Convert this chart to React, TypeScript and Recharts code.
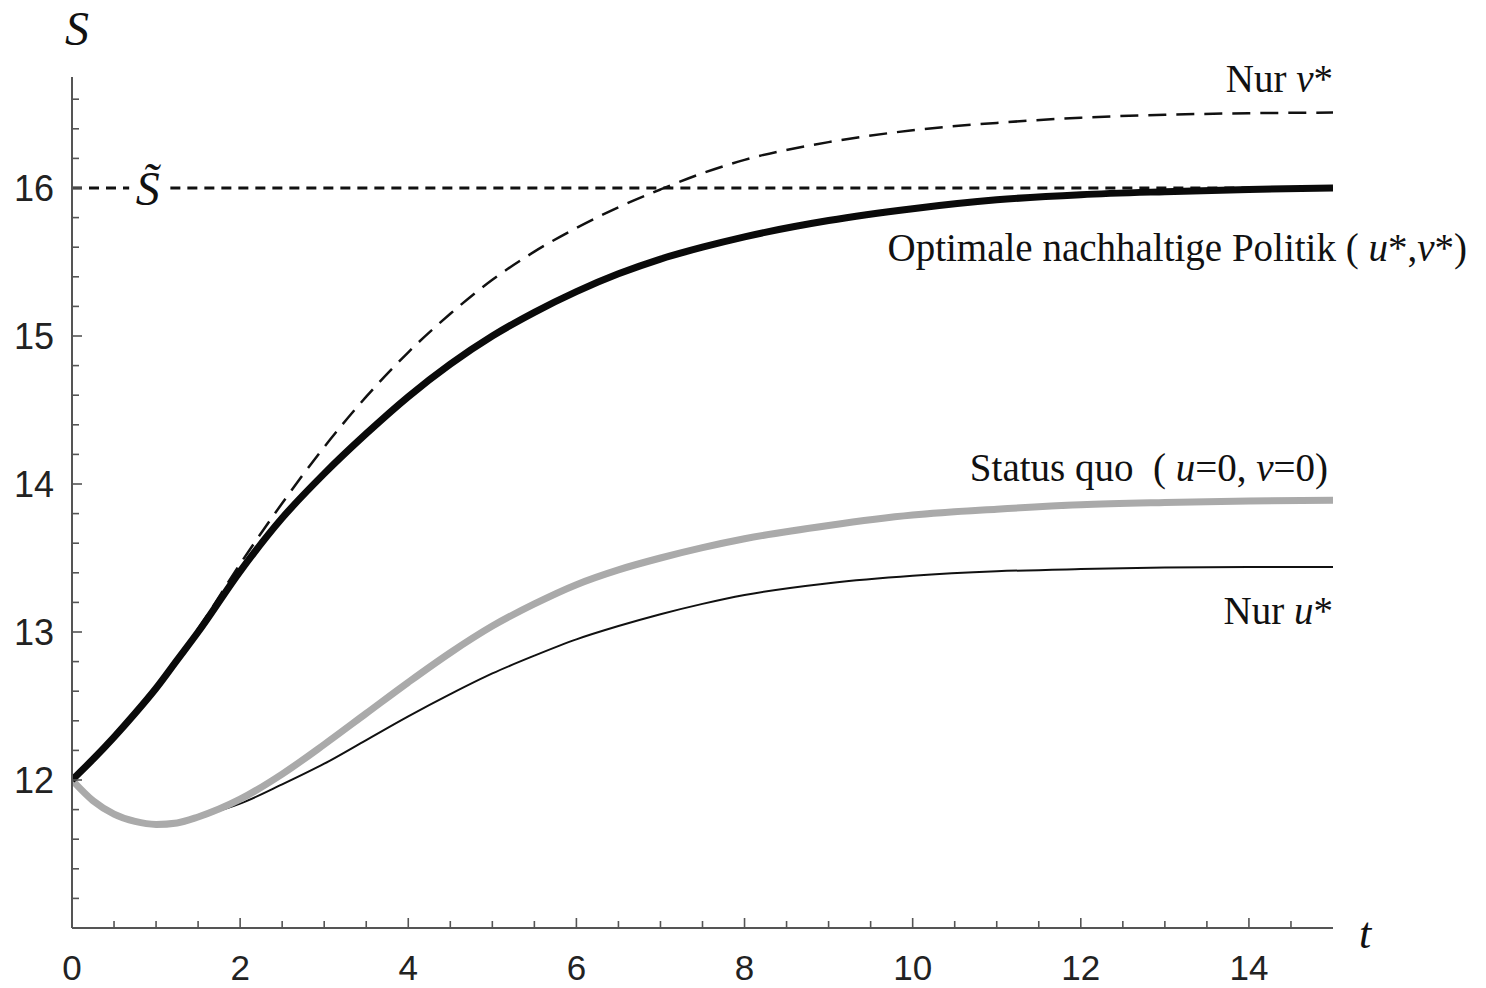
import { Line, LineChart, ReferenceDot, ReferenceLine, XAxis, YAxis } from "recharts";

// time points and the four stock paths S(t)
const tValues = [0, 0.25, 0.5, 0.75, 1, 1.25, 1.5, 2, 2.5, 3, 3.5, 4, 4.5, 5, 5.5, 6, 6.5, 7, 7.5, 8, 9, 10, 11, 12, 13, 14, 15];
const optimal = [12, 12.14, 12.29, 12.45, 12.62, 12.81, 13.0, 13.41, 13.77, 14.07, 14.34, 14.59, 14.81, 15.0, 15.16, 15.3, 15.42, 15.52, 15.6, 15.67, 15.78, 15.86, 15.92, 15.955, 15.975, 15.99, 16.0];
const nurV = [12, 12.14, 12.29, 12.45, 12.63, 12.82, 13.02, 13.46, 13.87, 14.25, 14.59, 14.89, 15.15, 15.38, 15.57, 15.73, 15.87, 15.99, 16.1, 16.19, 16.31, 16.39, 16.44, 16.475, 16.495, 16.505, 16.51];
const statusQuo = [12, 11.86, 11.77, 11.72, 11.7, 11.71, 11.75, 11.87, 12.04, 12.24, 12.45, 12.66, 12.86, 13.04, 13.19, 13.32, 13.42, 13.5, 13.57, 13.63, 13.72, 13.79, 13.83, 13.86, 13.875, 13.885, 13.89];
const nurU = [12, 11.86, 11.77, 11.72, 11.7, 11.71, 11.75, 11.84, 11.97, 12.11, 12.27, 12.43, 12.58, 12.72, 12.84, 12.95, 13.04, 13.12, 13.19, 13.25, 13.33, 13.38, 13.41, 13.425, 13.435, 13.44, 13.44];

const sTilde = 16;
const xLabels = [0, 2, 4, 6, 8, 10, 12, 14];
const yLabels = [12, 13, 14, 15, 16];
const xTicks = Array.from({ length: 30 }, (_, i) => i * 0.5);
const yTicks = Array.from({ length: 29 }, (_, i) => Math.round((11 + i * 0.2) * 10) / 10);

const data = tValues.map((t, i) => ({
  t,
  optimal: optimal[i],
  nurV: nurV[i],
  statusQuo: statusQuo[i],
  nurU: nurU[i]
}));

const serif = "'Liberation Serif', 'DejaVu Serif', serif";
const sans = "'Liberation Sans', Arial, sans-serif";

function XTick({ x, y, payload }: any) {
  const v = payload.value;
  const major = xLabels.includes(v);
  return (
    <g>
      {v > 0 && <line x1={x} x2={x} y1={y} y2={y - (major ? 10 : 7)} stroke="#555" strokeWidth={1.6} />}
      {major && (
        <text x={x} y={y + 52} textAnchor="middle" fontFamily={sans} fontSize={35} fill="#222">
          {v}
        </text>
      )}
    </g>
  );
}

function YTick({ x, y, payload }: any) {
  const v = payload.value;
  const major = yLabels.includes(v);
  return (
    <g>
      {v > 11 && <line x1={x} x2={x + (major ? 10 : 7)} y1={y} y2={y} stroke="#555" strokeWidth={1.6} />}
      {major && (
        <text x={x - 18} y={y + 13} textAnchor="end" fontFamily={sans} fontSize={36} fill="#222">
          {v}
        </text>
      )}
    </g>
  );
}

type Part = { text: string; italic?: boolean };

function note(parts: Part[], dx: number, dy: number, anchor = "end", size = 39) {
  return (props: any) => {
    const vb = props.viewBox ?? {};
    const x = (vb.x ?? 0) + (vb.width ?? 0) / 2 + dx;
    const y = (vb.y ?? 0) + (vb.height ?? 0) / 2 + dy;
    return (
      <text x={x} y={y} textAnchor={anchor} fontFamily={serif} fontSize={size} fill="#111" style={{ whiteSpace: "pre" }}>
        {parts.map((p, i) => (
          <tspan key={i} fontStyle={p.italic ? "italic" : "normal"}>
            {p.text}
          </tspan>
        ))}
      </text>
    );
  };
}

export default function App() {
  const last = tValues.length - 1;
  return (
    <div style={{ position: "absolute", left: 0, top: 0, background: "#fff" }}>
      <LineChart width={1486} height={988} data={data} margin={{ top: 77, right: 153, bottom: 0, left: 0 }}>
        <XAxis
          dataKey="t"
          type="number"
          domain={[0, 15]}
          ticks={xTicks}
          interval={0}
          height={60}
          tickLine={false}
          tickSize={0}
          tickMargin={0}
          tick={<XTick />}
          axisLine={{ stroke: "#555", strokeWidth: 2 }}
          allowDataOverflow
        />
        <YAxis
          type="number"
          domain={[11, 16.75]}
          ticks={yTicks}
          interval={0}
          width={72}
          tickLine={false}
          tickSize={0}
          tickMargin={0}
          tick={<YTick />}
          axisLine={{ stroke: "#555", strokeWidth: 2 }}
          allowDataOverflow
        />

        <ReferenceLine segment={[{ x: 0, y: sTilde }, { x: 0.68, y: sTilde }]} stroke="#111" strokeWidth={3} strokeDasharray="10 7" />
        <ReferenceLine segment={[{ x: 1.17, y: sTilde }, { x: 15, y: sTilde }]} stroke="#111" strokeWidth={3} strokeDasharray="10 7" />

        <Line dataKey="nurU" type="monotone" stroke="#111" strokeWidth={2} dot={false} isAnimationActive={false} />
        <Line dataKey="statusQuo" type="monotone" stroke="#aaaaaa" strokeWidth={7} dot={false} isAnimationActive={false} />
        <Line dataKey="nurV" type="monotone" stroke="#111" strokeWidth={2.5} strokeDasharray="18 10" dot={false} isAnimationActive={false} />
        <Line dataKey="optimal" type="monotone" stroke="#0a0a0a" strokeWidth={7} dot={false} isAnimationActive={false} />

        <ReferenceDot x={0.9} y={sTilde} r={0} ifOverflow="visible" label={note([{ text: "S\u0303", italic: true }], 0, 17, "middle", 48)} />
        <ReferenceDot x={0} y={16.75} r={0} ifOverflow="visible" label={note([{ text: "S", italic: true }], 5, -32, "middle", 48)} />
        <ReferenceDot x={15} y={11} r={0} ifOverflow="visible" label={note([{ text: "t", italic: true }], 32, 20, "middle", 44)} />

        <ReferenceDot x={15} y={nurV[last]} r={0} ifOverflow="visible" label={note([{ text: "Nur " }, { text: "v", italic: true }, { text: "*" }], 0, -21)} />
        <ReferenceDot
          x={15}
          y={optimal[last]}
          r={0}
          ifOverflow="visible"
          label={note([{ text: "Optimale nachhaltige Politik ( " }, { text: "u", italic: true }, { text: "*," }, { text: "v", italic: true }, { text: "*)" }], 134, 73)}
        />
        <ReferenceDot
          x={15}
          y={statusQuo[last]}
          r={0}
          ifOverflow="visible"
          label={note([{ text: "Status quo  ( " }, { text: "u", italic: true }, { text: "=0, " }, { text: "v", italic: true }, { text: "=0)" }], -5, -19)}
        />
        <ReferenceDot x={15} y={nurU[last]} r={0} ifOverflow="visible" label={note([{ text: "Nur " }, { text: "u", italic: true }, { text: "*" }], 0, 57)} />
      </LineChart>
    </div>
  );
}
